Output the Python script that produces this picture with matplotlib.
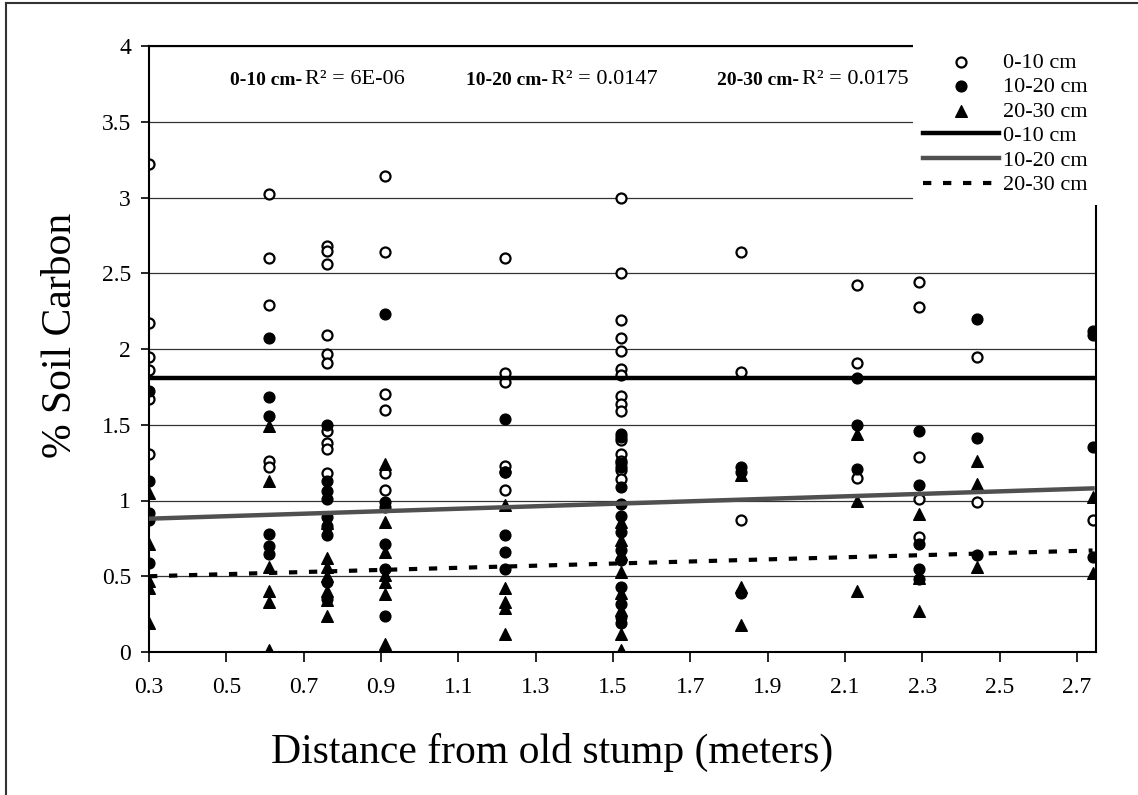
import numpy as np
import matplotlib
matplotlib.use('Agg')
import matplotlib.pyplot as plt
from matplotlib.lines import Line2D

plt.rcParams['font.family'] = ['Liberation Serif', 'DejaVu Serif']

# distances from the stump (meters)
dist = [0.30, 0.61, 0.76, 0.91, 1.22, 1.52, 1.83, 2.13, 2.29, 2.44, 2.74]

# % soil carbon, one list per distance
carbon_0_10 = [
    [3.22, 2.17, 1.95, 1.86, 1.67, 1.31],
    [3.02, 2.60, 2.29, 1.26, 1.22],
    [2.68, 2.65, 2.56, 2.09, 1.97, 1.91, 1.46, 1.38, 1.34, 1.18],
    [3.14, 2.64, 1.70, 1.60, 1.18, 1.07],
    [2.60, 1.84, 1.78, 1.23, 1.19, 1.07],
    [3.00, 2.50, 2.19, 2.07, 1.99, 1.87, 1.83, 1.69, 1.64, 1.59, 1.40, 1.31, 1.26, 1.20, 1.14],
    [2.64, 1.85, 0.87],
    [2.42, 1.91, 1.15],
    [2.44, 2.28, 1.29, 1.01, 0.76],
    [1.95, 0.99],
    [0.87],
]
carbon_10_20 = [
    [1.72, 1.13, 0.92, 0.87, 0.59],
    [2.07, 1.68, 1.56, 0.78, 0.70, 0.65],
    [1.50, 1.13, 1.06, 1.01, 0.89, 0.83, 0.77, 0.46, 0.35],
    [2.23, 0.99, 0.96, 0.71, 0.55, 0.24],
    [1.54, 1.19, 0.77, 0.66, 0.55],
    [1.44, 1.42, 1.25, 1.22, 1.09, 0.98, 0.90, 0.79, 0.67, 0.61, 0.43, 0.32, 0.23, 0.19],
    [1.22, 1.19, 0.39],
    [1.81, 1.50, 1.21],
    [1.46, 1.10, 0.71, 0.55, 0.48],
    [2.20, 1.41, 0.64],
    [2.12, 2.09, 1.35, 0.63],
]
carbon_20_30 = [
    [1.05, 0.71, 0.47, 0.42, 0.19],
    [1.49, 1.13, 0.56, 0.40, 0.33, 0.01],
    [0.85, 0.62, 0.56, 0.50, 0.40, 0.34, 0.24],
    [1.24, 0.86, 0.66, 0.51, 0.46, 0.38, 0.05],
    [0.97, 0.42, 0.33, 0.29, 0.12],
    [0.86, 0.74, 0.65, 0.53, 0.39, 0.28, 0.12, 0.01],
    [1.17, 0.43, 0.18],
    [1.44, 1.00, 0.40],
    [0.91, 0.49, 0.27],
    [1.26, 1.11, 0.56],
    [1.02, 0.52],
]

depth_labels = ['0-10 cm', '10-20 cm', '20-30 cm']
# linear trend lines, value at first and last distance
trend_start = [1.81, 0.88, 0.50]
trend_end = [1.81, 1.08, 0.67]
r2_text = ['R\u00b2 = 6E-06', 'R\u00b2 = 0.0147', 'R\u00b2 = 0.0175']


def flatten(groups):
    xs, ys = [], []
    for d, vals in zip(dist, groups):
        xs += [d] * len(vals)
        ys += vals
    return xs, ys


fig = plt.figure(figsize=(11.38, 7.95), dpi=100)
ax = fig.add_axes([149 / 1138, 1 - 652 / 795, (1096 - 149) / 1138, (652 - 46) / 795])

# scatter points
x, y = flatten(carbon_0_10)
s1 = ax.scatter(x, y, s=52, marker='o', facecolors='white', edgecolors='black', linewidths=1.6, zorder=2)
x, y = flatten(carbon_10_20)
s2 = ax.scatter(x, y, s=60, marker='o', color='black', zorder=2)
x, y = flatten(carbon_20_30)
s3 = ax.scatter(x, y, s=70, marker='^', color='black', zorder=2)

# trend lines
tx = [dist[0], dist[-1]]
l1, = ax.plot(tx, [trend_start[0], trend_end[0]], color='black', lw=3.2, zorder=3)
l2, = ax.plot(tx, [trend_start[1], trend_end[1]], color='#505050', lw=3.2, zorder=3)
l3, = ax.plot(tx, [trend_start[2], trend_end[2]], color='black', lw=3.0, zorder=3,
              dashes=(2.0, 2.8))

ax.set_xlim(0.3, 2.749)
ax.set_ylim(0, 4)
ax.set_xticks(np.round(np.arange(0.3, 2.71, 0.2), 1))
ax.set_xticklabels(['%.1f' % v for v in np.arange(0.3, 2.71, 0.2)])
ax.set_yticks(np.arange(0, 4.01, 0.5))
ax.set_yticklabels(['%g' % v for v in np.arange(0, 4.01, 0.5)])
ax.tick_params(axis='x', direction='out', length=7, width=1.2, pad=11, labelsize=17)
ax.tick_params(axis='y', direction='out', length=6, width=1.2, pad=7, labelsize=17)
ax.yaxis.grid(True, color='#333333', lw=0.9)
ax.set_axisbelow(True)
for sp in ax.spines.values():
    sp.set_linewidth(1.5)
    sp.set_color('black')

# R2 notes: bold depth, then plain R2
note_x = [0.509, 1.12, 1.77]
for nx, lab, r2 in zip(note_x, depth_labels, r2_text):
    t = ax.text(nx, 3.74, lab + '-', fontsize=14, fontweight='bold', va='baseline')
    ax.annotate(r2, xy=(1, 0), xycoords=t, xytext=(3, 0), textcoords='offset pixels',
                fontsize=16, va='bottom', ha='left')

handles = [s1, s2, s3, l1, l2, l3]
labels = depth_labels + depth_labels
leg = ax.legend(handles, labels, loc='upper left', bbox_to_anchor=(913 / 1138, 1 - 42 / 795),
                bbox_transform=fig.transFigure, fontsize=16, frameon=True, fancybox=False,
                facecolor='white', edgecolor='none', framealpha=1, borderpad=0.45,
                handlelength=3.4, handletextpad=0.22, labelspacing=0.18, borderaxespad=0,
                scatterpoints=1)

fig.text(552 / 1138, 1 - 752 / 795, 'Distance from old stump (meters)', fontsize=30,
         ha='center', va='center')
fig.text(61 / 1138, 1 - 335 / 795, '% Soil Carbon', fontsize=30, rotation=90,
         ha='center', va='center')

# chart border (left and top edges)
fig.add_artist(Line2D([6 / 1138, 6 / 1138], [0, 1 - 3 / 795], color='#333333', lw=1.5,
                      transform=fig.transFigure))
fig.add_artist(Line2D([6 / 1138, 1], [1 - 3 / 795, 1 - 3 / 795], color='#333333', lw=1.5,
                      transform=fig.transFigure))

plt.savefig('out.png', dpi=100)
